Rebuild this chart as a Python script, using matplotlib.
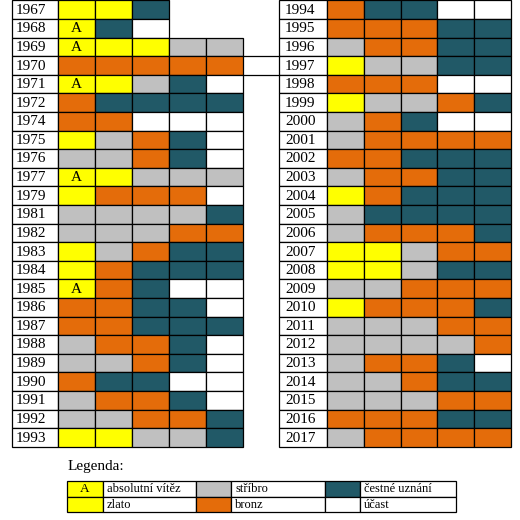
#results of the olympiad by year, drawn as a coloured table

import matplotlib.pyplot as plt
from matplotlib.patches import Rectangle

plt.rcParams['font.family'] = ['Liberation Serif', 'DejaVu Serif']

#result codes: A absolutni vitez, Z zlato, S stribro, B bronz, C cestne uznani, U ucast
colors = {"A": "#ffff00", "Z": "#ffff00", "S": "#c0c0c0", "B": "#e46c0a",
          "C": "#215967", "U": "#ffffff"}

years_left = [1967, 1968, 1969, 1970, 1971, 1972, 1974, 1975, 1976, 1977, 1979, 1981,
              1982, 1983, 1984, 1985, 1986, 1987, 1988, 1989, 1990, 1991, 1992, 1993]
results_left = ["ZZC", "ACU", "AZZSS", "BBBBB", "AZSCU", "BCCCC", "BBUUU", "ZSBCU",
                "SSBCU", "AZSSS", "ZBBBU", "SSSSC", "SSSBB", "ZSBCC", "ZBCCC", "ABCUU",
                "BBCCU", "BBCCC", "SBBCU", "SSBCU", "BCCUU", "SBBCU", "SSBBC", "ZZSSC"]

years_right = list(range(1994, 2018))
results_right = ["BCCUU", "BBBCC", "SBBCC", "ZSSCC", "BBBUU", "ZSSBC", "SBCUU", "SBBBB",
                 "BBCCC", "SBBCC", "ZBCCC", "SCCCC", "SBBBC", "ZZSBB", "ZZSCC", "SSBBB",
                 "ZBBBC", "SSSBB", "SSSSB", "SBBCU", "SSBCC", "SSSBB", "BBBCC", "SBBBB"]

legend_codes = ["A", "Z", "S", "B", "C", "U"]
legend_labels = ["absolutní vítěz", "zlato", "stříbro", "bronz", "čestné uznání", "účast"]

#layout in pixels
row_h = 18.6
top = 0.4

fig = plt.figure(figsize=(5.2, 5.2), dpi=100)
ax = fig.add_axes([0, 0, 1, 1])
ax.set_xlim(0, 520)
ax.set_ylim(520, 0)
ax.axis('off')


def draw_table(years, results, x0, year_w, cell_w, pad):
    for i, (year, res) in enumerate(zip(years, results)):
        y = top + i * row_h
        ax.add_patch(Rectangle((x0, y), year_w, row_h, facecolor='white',
                               edgecolor='black', linewidth=0.9))
        ax.text(x0 + pad, y + row_h / 2 + 0.5, str(year), fontsize=11,
                ha='left', va='center')
        for j, code in enumerate(res):
            cx = x0 + year_w + j * cell_w
            ax.add_patch(Rectangle((cx, y), cell_w, row_h, facecolor=colors[code],
                                   edgecolor='black', linewidth=0.9))
            if code == "A":
                ax.text(cx + cell_w / 2, y + row_h / 2 + 0.5, "A", fontsize=11,
                        ha='center', va='center')


draw_table(years_left, results_left, 12, 46.3, 37, 4)
draw_table(years_right, results_right, 279, 48.3, 36.7, 6)

#the 1970 row lines run across to the right table
i70 = years_left.index(1970)
for yy in [top + i70 * row_h, top + (i70 + 1) * row_h]:
    ax.plot([243.3, 279], [yy, yy], color='black', linewidth=0.9)

#legend
ax.text(68, 470, "Legenda:", fontsize=11, ha='left', va='baseline')
leg_top = 480.7
leg_h = 15.8
sw_w = [36, 35, 35]
txt_w = [93, 94, 96]
lx = 67
for k in range(3):
    for r in range(2):
        code = legend_codes[k * 2 + r]
        label = legend_labels[k * 2 + r]
        y = leg_top + r * leg_h
        ax.add_patch(Rectangle((lx, y), sw_w[k], leg_h, facecolor=colors[code],
                               edgecolor='black', linewidth=0.9))
        if code == "A":
            ax.text(lx + sw_w[k] / 2, y + leg_h / 2 + 0.5, "A", fontsize=9.5,
                    ha='center', va='center')
        ax.add_patch(Rectangle((lx + sw_w[k], y), txt_w[k], leg_h, facecolor='white',
                               edgecolor='black', linewidth=0.9))
        ax.text(lx + sw_w[k] + 4, y + leg_h / 2 + 0.5, label, fontsize=9,
                ha='left', va='center')
    lx += sw_w[k] + txt_w[k]

fig.savefig("out.png", dpi=100)
